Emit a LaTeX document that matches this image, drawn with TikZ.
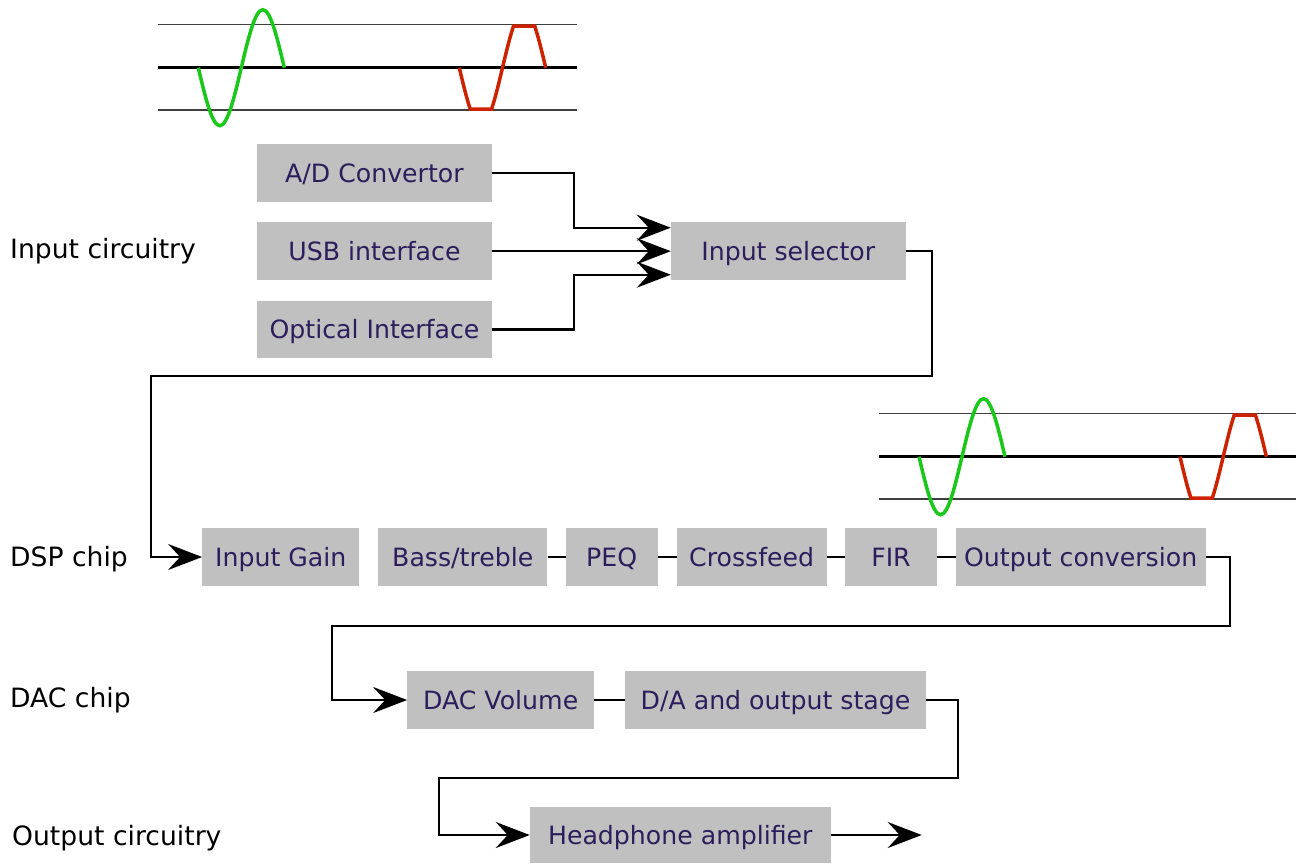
\documentclass[tikz,border=0pt]{standalone}
\usepackage{fontspec}
\setmainfont{DejaVu Sans}
\usetikzlibrary{arrows.meta,calc}
\definecolor{blockgray}{RGB}{192,192,192}
\definecolor{blocktext}{RGB}{44,30,92}
\definecolor{sinegreen}{RGB}{25,200,25}
\definecolor{clipred}{RGB}{204,34,0}
\tikzset{
  block/.style={fill=blockgray,text=blocktext,inner sep=0pt,minimum height=57.5pt,
    font=\fontsize{25.2}{30}\selectfont,text height=18pt,text depth=0pt},
  flow/.style={line width=2.3pt,-{Stealth[length=34pt,width=26pt,inset=12pt]}},
  wire/.style={line width=2.3pt},
  stage/.style={anchor=base west,inner sep=0pt,font=\fontsize{26.6}{30}\selectfont}
}

\begin{document}
\begin{tikzpicture}[x=1pt,y=-1pt]
  \useasboundingbox (0,0) rectangle (1296,863);
  \foreach \dx/\dy in {0/0,720.7/389}{
    \begin{scope}[shift={(\dx,\dy)}]
      \draw[line width=1.5pt,black!75] (158,24.3) -- (577,24.3) (158,110) -- (577,110);
      \draw[line width=2.7pt] (158,67.7) -- (577,67.7);
      \draw[sinegreen,line width=3.5pt] (198.3,67.7) sin (219.8,125.7) cos (241.3,67.7)
        sin (262.8,9.7) cos (284.3,67.7);
      \draw[clipred,line width=3.5pt] (459.3,67.7)
        .. controls +(3.66,15.43) and +(-3.66,-10.78) .. ++(10.97,41.5) -- ++(21.26,0)
        .. controls +(3.66,-10.78) and +(-3.66,15.43) .. ++(10.97,-41.5)
        .. controls +(3.66,-15.43) and +(-3.66,10.78) .. ++(10.97,-41.5) -- ++(21.26,0)
        .. controls +(3.66,10.78) and +(-3.66,-15.43) .. ++(10.97,41.5);
    \end{scope}
  }
  \node[stage] (inlab) at (10,258.5) {Input circuitry};
  \node[stage] (dsplab) at (10,566.5) {DSP chip};
  \node[stage] (daclab) at (10,707.5) {DAC chip};
  \node[stage] (outlab) at (12,845) {Output circuitry};
  \node[block,minimum width=234.4pt] (ad) at (374.5,173) {A/D Convertor};
  \node[block,minimum width=234.4pt] (usb) at (374.5,251.2) {USB interface};
  \node[block,minimum width=234.4pt] (opt) at (374.5,329.5) {Optical Interface};
  \node[block,minimum width=234.7pt] (sel) at (788.3,251.2) {Input selector};
  \node[block,minimum width=157pt] (gain) at (280.8,557) {Input Gain};
  \node[block,minimum width=169pt] (bass) at (462.8,557) {Bass/treble};
  \node[block,minimum width=92pt] (peq) at (611.7,557) {PEQ};
  \node[block,minimum width=150pt] (xfeed) at (751.7,557) {Crossfeed};
  \node[block,minimum width=91.4pt] (fir) at (891,557) {FIR};
  \node[block,minimum width=250pt] (outconv) at (1080.7,557) {Output conversion};
  \node[block,minimum width=186.7pt] (dacvol) at (500.7,700) {DAC Volume};
  \node[block,minimum width=301pt] (da) at (775.5,700) {D/A and output stage};
  \node[block,minimum width=300.7pt,minimum height=56pt] (hp) at (680.3,835) {Headphone amplifier};
  \coordinate (join) at (574,251.2);
  \coordinate (selturn) at (932,376);
  \coordinate (gainturn) at (151,557);
  \coordinate (convturn) at (1230,626);
  \coordinate (dacturn) at (331.7,700);
  \coordinate (daturn) at (958.3,778.3);
  \coordinate (ampturn) at (439,835);
  \coordinate (out) at (921.7,835);
  \draw[flow] (ad.east) -| ([yshift=23.5pt]join) -- ([yshift=23.5pt]sel.west);
  \draw[flow] (usb.east) -- (sel.west);
  \draw[flow] (opt.east) -| ([yshift=-23.5pt]join) -- ([yshift=-23.5pt]sel.west);
  \draw[flow] (sel.east) -| (selturn) -| (gainturn) -- (gain.west);
  \draw[wire] (bass) -- (peq) (peq) -- (xfeed) (xfeed) -- (fir) (fir) -- (outconv);
  \draw[flow] (outconv.east) -| (convturn) -| (dacturn) -- (dacvol.west);
  \draw[wire] (dacvol) -- (da);
  \draw[flow] (da.east) -| (daturn) -| (ampturn) -- (hp.west);
  \draw[flow] (hp.east) -- (out);
\end{tikzpicture}
\end{document}
